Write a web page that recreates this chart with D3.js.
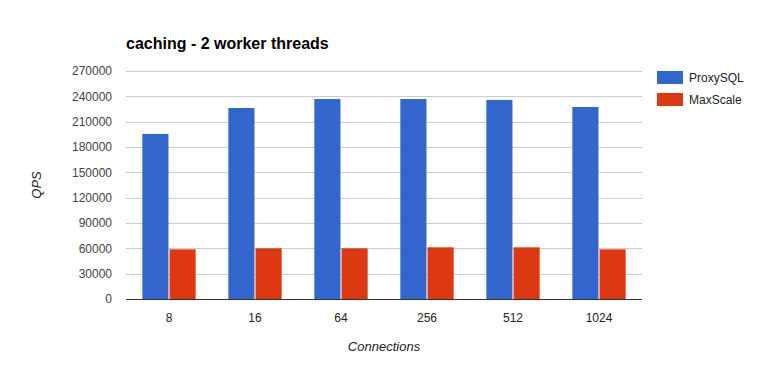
<!DOCTYPE html>
<html>
<head>
<meta charset="utf-8">
<script src="https://cdn.jsdelivr.net/npm/d3@7"></script>
<style>
  body { margin: 0; background: #fff; }
  text { font-family: "Liberation Sans", Arial, sans-serif; }
</style>
</head>
<body>
<div id="chart"></div>
<script>
const connections = ["8", "16", "64", "256", "512", "1024"];
const seriesNames = ["ProxySQL", "MaxScale"];
const proxysql = [195500, 226200, 236800, 236800, 235700, 227400];
const maxscale = [58800, 60000, 60000, 61200, 61200, 58800];
const yTicks = [0, 30000, 60000, 90000, 120000, 150000, 180000, 210000, 240000, 270000];
const colors = ["#3366cc", "#dc3912"];

const width = 769, height = 371;
const margin = { top: 71, right: 127, bottom: 72, left: 126 };
const innerW = width - margin.left - margin.right;
const innerH = height - margin.top - margin.bottom;

const svg = d3.select("#chart").append("svg")
    .attr("width", width)
    .attr("height", height);

const g = svg.append("g").attr("transform", `translate(${margin.left},${margin.top})`);

const x = d3.scaleBand().domain(connections).range([0, innerW]).paddingInner(0.38).paddingOuter(0.19);
const x1 = d3.scaleBand().domain(seriesNames).range([0, x.bandwidth()]).paddingInner(0.04);
const y = d3.scaleLinear().domain([0, 270000]).range([innerH, 0]);

// gridlines
g.selectAll("line.grid").data(yTicks.slice(1)).enter().append("line")
    .attr("x1", 0).attr("x2", innerW)
    .attr("y1", d => Math.round(y(d)) + 0.5).attr("y2", d => Math.round(y(d)) + 0.5)
    .attr("stroke", "#cccccc");

// y tick labels
g.selectAll("text.ytick").data(yTicks).enter().append("text")
    .attr("x", -14)
    .attr("y", d => y(d))
    .attr("dy", "0.35em")
    .attr("text-anchor", "end")
    .attr("font-size", 12)
    .attr("fill", "#444")
    .text(d => d);

const rows = connections.map((c, i) => ({ c, vals: [proxysql[i], maxscale[i]] }));

g.selectAll("g.grp").data(rows).enter().append("g")
    .attr("transform", d => `translate(${x(d.c)},0)`)
    .selectAll("rect").data(d => d.vals.map((v, j) => ({ s: seriesNames[j], v, j }))).enter().append("rect")
    .attr("x", d => x1(d.s))
    .attr("y", d => y(d.v))
    .attr("width", x1.bandwidth())
    .attr("height", d => innerH - y(d.v))
    .attr("fill", d => colors[d.j]);

// baseline
g.append("line")
    .attr("x1", 0).attr("x2", innerW)
    .attr("y1", innerH + 0.5).attr("y2", innerH + 0.5)
    .attr("stroke", "#333");

// x tick labels
g.selectAll("text.xtick").data(connections).enter().append("text")
    .attr("x", d => x(d) + x.bandwidth() / 2)
    .attr("y", innerH + 23)
    .attr("text-anchor", "middle")
    .attr("font-size", 12)
    .attr("fill", "#222")
    .text(d => d);

// title
svg.append("text")
    .attr("x", 126).attr("y", 49)
    .attr("font-size", 16).attr("font-weight", "bold")
    .attr("fill", "#000")
    .text("caching - 2 worker threads");

// axis titles
svg.append("text")
    .attr("x", margin.left + innerW / 2).attr("y", 351)
    .attr("text-anchor", "middle")
    .attr("font-size", 13).attr("font-style", "italic")
    .attr("fill", "#222")
    .text("Connections");

svg.append("text")
    .attr("transform", `translate(41,${margin.top + innerH / 2}) rotate(-90)`)
    .attr("text-anchor", "middle")
    .attr("font-size", 13).attr("font-style", "italic")
    .attr("fill", "#222")
    .text("QPS");

// legend
const legend = svg.append("g").attr("transform", "translate(657,71)");
seriesNames.forEach((name, i) => {
    const row = legend.append("g").attr("transform", `translate(0,${i * 22})`);
    row.append("rect").attr("width", 26).attr("height", 13).attr("fill", colors[i]);
    row.append("text").attr("x", 32).attr("y", 6.5).attr("dy", "0.35em")
        .attr("font-size", 12).attr("fill", "#222").text(name);
});
</script>
</body>
</html>
